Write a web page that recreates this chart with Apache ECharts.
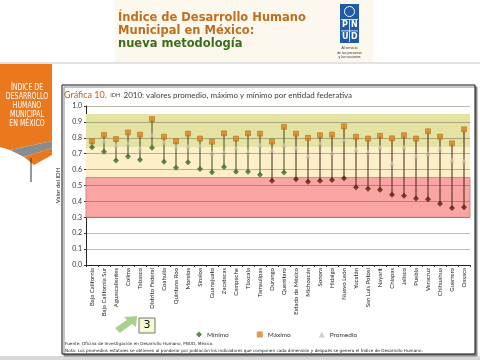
<!DOCTYPE html>
<html><head><meta charset="utf-8">
<script src="https://cdn.jsdelivr.net/npm/echarts@6/dist/echarts.min.js"></script>
<style>html,body{margin:0;padding:0;background:#fff}#c{width:480px;height:360px}</style>
</head><body><div id="c"></div>
<script>
const categories = ['Baja California','Baja California Sur','Aguascalientes','Colima','Tabasco','Distrito Federal','Coahuila','Quintana Roo','Morelos','Sinaloa','Guanajuato','Zacatecas','Campeche','Tlaxcala','Tamaulipas','Durango','Querétaro','Estado de México','Michoacán','Sonora','Hidalgo','Nuevo León','Yucatán','San Luis Potosí','Nayarit','Chiapas','Jalisco','Puebla','Veracruz','Chihuahua','Guerrero','Oaxaca'];
const minVals = [0.740,0.713,0.658,0.683,0.662,0.738,0.650,0.612,0.646,0.604,0.583,0.616,0.587,0.587,0.568,0.530,0.581,0.539,0.524,0.530,0.535,0.545,0.489,0.480,0.474,0.442,0.436,0.419,0.413,0.386,0.358,0.363];
const avgVals = [0.752,0.782,0.757,0.765,0.736,0.820,0.772,0.748,0.748,0.750,0.706,0.709,0.738,0.713,0.757,0.723,0.757,0.736,0.687,0.767,0.706,0.790,0.728,0.713,0.742,0.640,0.742,0.686,0.702,0.734,0.660,0.656];
const maxVals = [0.778,0.818,0.792,0.834,0.820,0.918,0.807,0.778,0.826,0.795,0.776,0.828,0.795,0.828,0.826,0.776,0.869,0.826,0.800,0.816,0.820,0.872,0.807,0.795,0.813,0.797,0.816,0.795,0.841,0.807,0.765,0.853];
const gridValues = [0.1,0.2,0.3,0.4,0.5,0.6,0.7,0.8,0.9,1.0];
const bands = [[0.95,0.74,'#e4e3a4'],[0.74,0.55,'#fdf0c9'],[0.55,0.30,'#f9a5a3']];
const threshold = 0.55;

const F = 'Lato, "DejaVu Sans", sans-serif';
const chart = echarts.init(document.getElementById('c'));
const greenMin = '#3e6b1f', redMin = '#5a1f10';
const rangeData = categories.map((c,i)=>[i,minVals[i],maxVals[i]]);

const option = {
  animation:false,
  textStyle:{fontFamily:F},
  legend:{
    left:191, top:326, itemWidth:6, itemHeight:6, itemGap:28,
    textStyle:{fontSize:6.5,color:'#333',fontFamily:F},
    data:[
      {name:'Mínimo',icon:'diamond',itemStyle:{color:greenMin,borderWidth:0}},
      {name:'Máximo',icon:'rect',itemStyle:{color:'#d9831c',borderWidth:0}},
      {name:'Promedio',icon:'triangle',itemStyle:{color:'#c9c3ab',borderWidth:0}}
    ]
  },
  grid:{left:86,right:10,top:106,bottom:95},
  xAxis:{
    type:'category', data:categories, boundaryGap:true,
    axisLine:{lineStyle:{color:'#222',width:1}},
    axisTick:{show:true,interval:0,length:2,lineStyle:{color:'#333'}},
    axisLabel:{rotate:90,interval:0,fontSize:6,color:'#222',margin:3,fontFamily:F},
    splitLine:{show:false}
  },
  yAxis:{
    type:'value', min:0, max:1, interval:0.1,
    name:'Valor del IDH', nameLocation:'middle', nameGap:17,
    nameTextStyle:{fontSize:6,color:'#222',fontFamily:F},
    axisLine:{show:true,lineStyle:{color:'#222',width:1}},
    axisTick:{show:true,length:2,lineStyle:{color:'#333'}},
    axisLabel:{fontSize:7,color:'#333',margin:4,formatter:v=>v.toFixed(1),fontFamily:F},
    splitLine:{show:false}
  },
  series:[
    {type:'scatter',data:[],z:1,silent:true,
      markArea:{silent:true,data:bands.map(b=>[{yAxis:b[0],itemStyle:{color:b[2],borderColor:b[2]==='#f9a5a3'?'#d98583':b[2],borderWidth:b[2]==='#f9a5a3'?1:0}},{yAxis:b[1]}])}},
    {type:'scatter',data:[],z:2,silent:true,
      markLine:{silent:true,symbol:'none',label:{show:false},
        lineStyle:{color:'rgba(80,70,40,0.38)',type:'solid',width:1},
        data:gridValues.map(v=>({yAxis:v}))}},
    {type:'custom',name:'rango',z:3,silent:true,data:rangeData,
      renderItem:(params,api)=>{
        const p1=api.coord([api.value(0),api.value(1)]);
        const p2=api.coord([api.value(0),api.value(2)]);
        return {type:'line',shape:{x1:p1[0],y1:p1[1],x2:p2[0],y2:p2[1]},
          style:{stroke:api.value(1)<threshold?'#4a2014':'#3c4a1c',lineWidth:1}};
      }},
    {type:'scatter',name:'Promedio',z:4,symbol:'triangle',symbolSize:5,data:avgVals,
      itemStyle:{color:'#c9c3ab'}},
    {type:'scatter',name:'Máximo',z:5,symbol:'rect',symbolSize:5,data:maxVals,
      itemStyle:{color:'#d9831c',borderColor:'#a85f10',borderWidth:0.6}},
    {type:'scatter',name:'Mínimo',z:6,symbol:'diamond',symbolSize:6,data:minVals,
      itemStyle:{color:p=>p.value<threshold?redMin:greenMin}}
  ],
  graphic:{elements:[
    {type:'rect',z:-20,shape:{x:0,y:0,width:480,height:360},style:{fill:'#fff'}},
    {type:'rect',z:-19,shape:{x:115,y:0,width:258,height:62},style:{fill:'#fcf8ee'}},
    {type:'rect',z:-19,shape:{x:0,y:62.5,width:480,height:1},style:{fill:'#c6c6c6'}},
    {type:'rect',z:-18,shape:{x:62,y:85,width:413,height:269},style:{fill:'#fff',stroke:'#111',lineWidth:1,shadowColor:'#8a8a8a',shadowOffsetX:2,shadowOffsetY:2}},
    {type:'text',z:100,x:64,y:95,style:{
      text:'{a|Gráfica 10.} {b|IDH} {c|2010: valores promedio, máximo y mínimo por entidad federativa}',
      verticalAlign:'middle',
      rich:{
        a:{fontSize:9,fill:'#b5651d',fontFamily:F},
        b:{fontSize:5.5,fill:'#444',fontFamily:F},
        c:{fontSize:8,fill:'#3a3a3a',fontFamily:F}
      }}},
    {type:'text',z:100,x:118,y:12,style:{text:'Índice de Desarrollo Humano',fill:'#c06d1e',font:'bold 11.5px "DejaVu Sans", sans-serif'}},
    {type:'text',z:100,x:118,y:25,style:{text:'Municipal en México:',fill:'#c06d1e',font:'bold 11.5px "DejaVu Sans", sans-serif'}},
    {type:'text',z:100,x:118,y:38,style:{text:'nueva metodología',fill:'#3b6e1b',font:'bold 11.5px "DejaVu Sans", sans-serif'}},
    {type:'rect',z:100,shape:{x:340,y:4,width:19,height:39},style:{fill:'#1f5ba8'}},
    {type:'circle',z:101,shape:{cx:349.5,cy:11.5,r:5},style:{fill:'#1f5ba8',stroke:'#fff',lineWidth:1}},
    {type:'rect',z:101,shape:{x:341,y:19,width:17,height:0.8},style:{fill:'#fff'}},
    {type:'rect',z:101,shape:{x:341,y:30.5,width:17,height:0.8},style:{fill:'#fff'}},
    {type:'rect',z:101,shape:{x:349.2,y:19,width:0.8,height:23},style:{fill:'#fff'}},
    {type:'text',z:102,x:342,y:21,style:{text:'P',fill:'#fff',font:'bold 8px "DejaVu Sans", sans-serif'}},
    {type:'text',z:102,x:351,y:21,style:{text:'N',fill:'#fff',font:'bold 8px "DejaVu Sans", sans-serif'}},
    {type:'text',z:102,x:342,y:32.5,style:{text:'U',fill:'#fff',font:'bold 8px "DejaVu Sans", sans-serif'}},
    {type:'text',z:102,x:351,y:32.5,style:{text:'D',fill:'#fff',font:'bold 8px "DejaVu Sans", sans-serif'}},
    {type:'text',z:102,x:349.5,y:46,style:{text:'Al servicio\nde las personas\ny las naciones',fill:'#333',font:'3.5px sans-serif',align:'center',lineHeight:4.5}},
    {type:'polygon',z:100,shape:{points:[[0,64],[52,64],[52,141],[10,150],[0,147]]},style:{fill:'#e9781f'}},
    {type:'polygon',z:100,shape:{points:[[10,150],[52,141],[52,148],[24,157]]},style:{fill:'#8a8d90'}},
    {type:'polygon',z:100,shape:{points:[[24,157],[52,148],[52,155],[34,165]]},style:{fill:'#e9781f'}},
    {type:'rect',z:100,shape:{x:30.5,y:158,width:1,height:24},style:{fill:'#333'}},
    {type:'text',z:101,x:27,y:83,scaleX:0.78,style:{text:'ÍNDICE DE\nDESARROLLO\nHUMANO\nMUNICIPAL\nEN MÉXICO',fill:'#fff',font:'8px "DejaVu Sans", sans-serif',align:'center',lineHeight:9}},
    {type:'polygon',z:100,shape:{points:[[137,316],[136,327],[132,324],[120,333],[115,328],[127,320],[124,317]]},style:{fill:'#a9d18e'}},
    {type:'rect',z:100,shape:{x:139,y:318,width:16,height:15},style:{fill:'#f4fbd2',stroke:'#555',lineWidth:0.8}},
    {type:'text',z:101,x:147,y:325.5,style:{text:'3',fill:'#111',font:'11px "DejaVu Sans", sans-serif',align:'center',verticalAlign:'middle'}},
    {type:'text',z:100,x:65,y:341.5,style:{text:'Fuente: Oficina de Investigación en Desarrollo Humano, PNUD, México.',fill:'#222',font:'4.2px "DejaVu Sans", sans-serif'}},
    {type:'text',z:100,x:65,y:348.5,style:{text:'Nota: Los promedios estatales se obtienen al ponderar por población los indicadores que componen cada dimensión y después se genera el Índice de Desarrollo Humano.',fill:'#222',font:'4.2px "DejaVu Sans", sans-serif'}},
    {type:'rect',z:-19,shape:{x:0,y:356,width:480,height:4},style:{fill:'#d8d8d8'}}
  ]}
};
chart.setOption(option);
</script></body></html>
